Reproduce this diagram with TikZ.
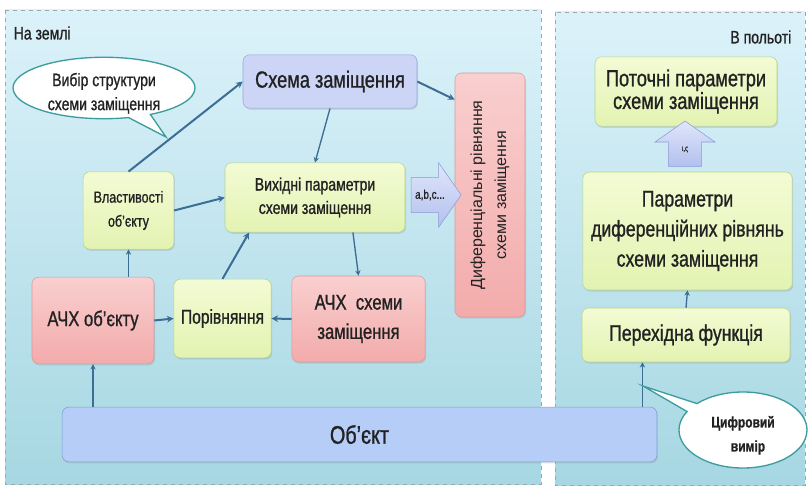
\documentclass[tikz,border=0pt]{standalone}
\usepackage{fontspec}
\setmainfont{Liberation Sans}[FakeStretch=0.78,FakeBold=1]
\newfontfamily\widesans{Liberation Sans}
\usetikzlibrary{arrows.meta,calc,shapes.arrows,shapes.callouts,shadows}

\definecolor{paneltop}{HTML}{DCF2FA}
\definecolor{panelbot}{HTML}{A6D7E2}
\definecolor{panelrule}{HTML}{9EA8AC}
\definecolor{greentop}{HTML}{F3FBD4}
\definecolor{greenbot}{HTML}{E3F3B2}
\definecolor{greenedge}{HTML}{B5D588}
\definecolor{redtop}{HTML}{F9CFCF}
\definecolor{redbot}{HTML}{F3ABAB}
\definecolor{rededge}{HTML}{DC9898}
\definecolor{bluefill}{HTML}{CCD5F5}
\definecolor{blueedge}{HTML}{98A6DA}
\definecolor{objfill}{HTML}{B5CDF7}
\definecolor{objedge}{HTML}{7E9FCF}
\definecolor{fattop}{HTML}{E0E6FA}
\definecolor{fatbot}{HTML}{B3C0EE}
\definecolor{fatedge}{HTML}{8A9BD6}
\definecolor{bubbleedge}{HTML}{3E9C9E}
\definecolor{linkblue}{HTML}{3C6E95}
\definecolor{ink}{HTML}{222222}

\tikzset{
  box/.style={rounded corners=5pt,align=center,inner sep=2pt,text=ink,
    drop shadow={opacity=.22,shadow xshift=.8pt,shadow yshift=-1.2pt}},
  green box/.style={box,draw=greenedge,top color=greentop,bottom color=greenbot},
  red box/.style={box,draw=rededge,top color=redtop,bottom color=redbot},
  blue box/.style={box,draw=blueedge,fill=bluefill},
  link/.style={draw=linkblue,line width=1.5pt,-{Stealth[length=5pt,width=5pt]}},
  thin link/.style={link,line width=1pt,-{Stealth[length=4pt,width=4pt]}},
  fat arrow/.style={single arrow,draw=fatedge,top color=fattop,bottom color=fatbot,
    single arrow tip angle=110,text=ink},
  bubble/.style={ellipse callout,draw=bubbleedge,fill=white,line width=1pt,
    align=center,inner sep=1pt,text=ink},
  panel/.style={draw=panelrule,dashed,line width=.5pt,top color=paneltop,bottom color=panelbot},
}
% text lowered inside its own box
\newcommand\sunk[1]{\raisebox{-4pt}[\height][\depth]{#1}}

\begin{document}
\begin{tikzpicture}[x=.75pt,y=-.75pt]
  \useasboundingbox (0,0) rectangle (809,488);
  % two panels: on the ground and in flight
  \path[panel] (5,10) rectangle (541,484);
  \path[panel] (555,12) rectangle (805,485);
  \node[anchor=west,text=ink,font=\fontsize{13.5}{16}\selectfont] (ground) at (9,33) {На землі};
  \node[anchor=east,text=ink,font=\fontsize{13.5}{16}\selectfont] (flight) at (796,37) {В польоті};

  % left side
  \node[blue box,minimum width=130.5pt,minimum height=40pt,
    font=\fontsize{17.5}{20}\selectfont] (scheme) at (330,81.5) {Схема заміщення};
  \node[green box,minimum width=135pt,minimum height=52pt,
    font=\fontsize{13.5}{17.5}\selectfont] (init) at (315,197.5) {Вихідні параметри\\схеми заміщення};
  \node[green box,minimum width=68pt,minimum height=58pt,
    font=\fontsize{12}{18}\selectfont] (props) at (128.5,210.5) {Властивості\\об'єкту};
  \node[red box,minimum width=91.5pt,minimum height=65pt,
    font=\fontsize{16}{18}\selectfont] (ach1) at (93,320.5) {АЧХ об'єкту};
  \node[green box,minimum width=73pt,minimum height=59pt,
    font=\fontsize{15}{18}\selectfont] (compare) at (222.5,318.5) {Порівняння};
  \node[red box,minimum width=100pt,minimum height=64.5pt,
    font=\fontsize{16}{22}\selectfont] (ach2) at (358.5,319) {АЧХ\ \ схеми\\заміщення};
  \node[red box,rotate=90,minimum width=183pt,minimum height=52.5pt,
    font=\widesans\fontsize{12}{18}\selectfont] (diffeq) at (490,195)
    {Диференціальні рівняння\\схеми заміщення};
  \node[fat arrow,minimum height=37.5pt,inner xsep=1pt,inner ysep=9pt,
    single arrow head extend=11pt,font=\fontsize{9.5}{10}\selectfont] (abc) at (430,195) {a,b,c...};
  \node[blue box,draw=objedge,fill=objfill,minimum width=446pt,minimum height=41pt,
    font=\fontsize{19}{20}\selectfont] (object) at (359.5,434.5) {Об'єкт};
  \coordinate (tip1) at (166,137);
  \node[bubble,minimum width=136.5pt,minimum height=45pt,callout absolute pointer=(tip1),
    font=\fontsize{13.5}{18}\selectfont] (choice) at (104,88)
    {\sunk{Вибір структури}\\\sunk{схеми заміщення}};

  % right side
  \node[green box,minimum width=136.5pt,minimum height=52pt,
    font=\fontsize{17.5}{17}\selectfont] (current) at (686,91.5) {Поточні параметри\\схеми заміщення};
  \node[green box,minimum width=157pt,minimum height=88.5pt,
    font=\fontsize{17}{22.5}\selectfont] (params) at (687.5,231)
    {Параметри\\диференційних рівнянь\\схеми заміщення};
  \node[green box,minimum width=156pt,minimum height=40.5pt,
    font=\fontsize{17}{20}\selectfont] (trans) at (686,335) {Перехідна функція};
  \node[fat arrow,shape border rotate=90,minimum height=34pt,inner xsep=10pt,inner ysep=1pt,
    single arrow head extend=10pt,font=\fontsize{6}{6}\selectfont] (ups) at (685,149.5) {ι,ς};

  % connectors
  \draw[link] (props.north) -- (scheme.west);
  \draw[link] (props.east) -- (init.west);
  \draw[thin link] (scheme.south) -- (init.north);
  \draw[link] (scheme.east) -- ($(diffeq.north)!.78!(diffeq.north east)$);
  \draw[thin link] ($(init.south)!.42!(init.south east)$) -- (ach2.north);
  \draw[link] (compare.north) -- ($(init.south west)!.27!(init.south)$);
  \draw[link] (ach1.east) -- (compare.west);
  \draw[link] (ach2.west) -- (compare.east);
  \draw[thin link] (props.south |- ach1.north) -- (props.south);
  \draw[thin link] (ach1.south |- object.north) -- (ach1.south);
  \draw[thin link] ([xshift=-11pt]object.north east) coordinate (tap) -- (tap |- trans.south);
  \draw[thin link] (trans.north) -- (params.south);

  \coordinate (tip2) at (643,386);
  \node[bubble,minimum width=96pt,minimum height=57pt,callout absolute pointer=(tip2),
    font=\bfseries\fontsize{11.5}{18}\selectfont] (digital) at (743,430)
    {\sunk{Цифровий}\\\sunk{\ \ \ вимір}};
\end{tikzpicture}
\end{document}
